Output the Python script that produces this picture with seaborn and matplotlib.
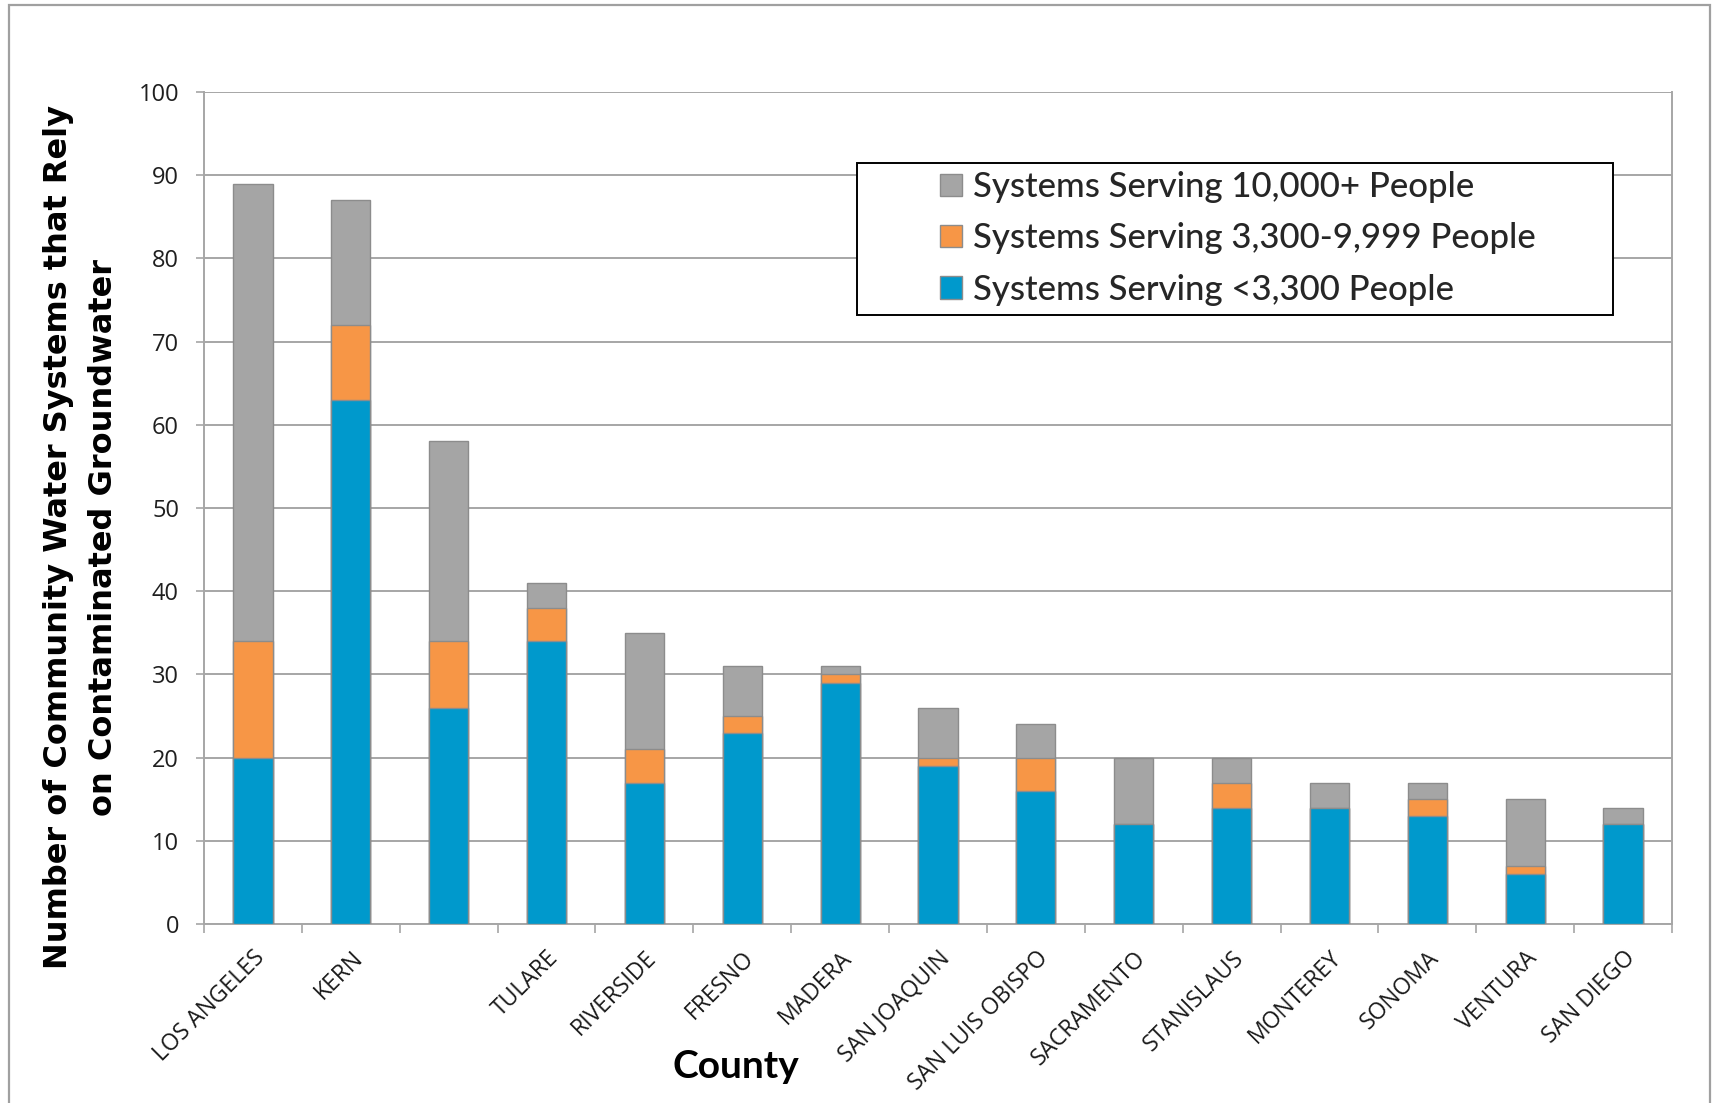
import matplotlib
matplotlib.use("Agg")
import matplotlib.pyplot as plt
import seaborn as sns
import pandas as pd
from matplotlib.patches import Rectangle, Patch
from matplotlib.ticker import FixedLocator

counties = ["LOS ANGELES", "KERN", "", "TULARE", "RIVERSIDE", "FRESNO", "MADERA",
            "SAN JOAQUIN", "SAN LUIS OBISPO", "SACRAMENTO", "STANISLAUS", "MONTEREY",
            "SONOMA", "VENTURA", "SAN DIEGO"]
small = [20, 63, 26, 34, 17, 23, 29, 19, 16, 12, 14, 14, 13, 6, 12]      # <3,300
medium = [14, 9, 8, 4, 4, 2, 1, 1, 4, 0, 3, 0, 2, 1, 0]                # 3,300-9,999
large = [55, 15, 24, 3, 14, 6, 1, 6, 4, 8, 3, 3, 2, 8, 2]              # 10,000+
series_names = ["Systems Serving 10,000+ People",
                "Systems Serving 3,300-9,999 People",
                "Systems Serving <3,300 People"]
yticks = [0, 10, 20, 30, 40, 50, 60, 70, 80, 90, 100]

c_large, c_med, c_small = "#A5A5A5", "#F79646", "#0099CC"
edge = "#8C8C8C"
grid_c = "#A6A6A6"

sns.set_theme(style="white")
plt.rcParams['font.family'] = ['Open Sans', 'DejaVu Sans']

df = pd.DataFrame({"county": counties, "small": small, "medium": medium, "large": large})
df["top_med"] = df["small"] + df["medium"]
df["total"] = df["top_med"] + df["large"]

fig = plt.figure(figsize=(17.12, 11.03), dpi=100)
ax = fig.add_axes([204/1712, 1-924/1103, 1468/1712, 832/1103])

for col, color in [("total", c_large), ("top_med", c_med), ("small", c_small)]:
    sns.barplot(data=df, x="county", y=col, order=counties, color=color, width=0.4,
                edgecolor=edge, linewidth=1.0, errorbar=None, saturation=1, ax=ax, zorder=3)

ax.set_ylim(0, 100)
ax.set_xlim(-0.5, len(counties) - 0.5)
ax.set_yticks(yticks)
ax.set_yticklabels([str(v) for v in yticks], fontsize=17, color="#1f1f1f")
ax.set_xticks(range(len(counties)))
ax.set_xticklabels(counties, rotation=45, ha="right", va="top",
                   rotation_mode="anchor", fontsize=16.5, color="#1a1a1a")
ax.tick_params(axis="x", which="major", length=0, pad=16, bottom=True)
ax.xaxis.set_minor_locator(FixedLocator([i - 0.5 for i in range(len(counties) + 1)]))
ax.tick_params(axis="x", which="minor", length=6.5, width=1.2, color=grid_c,
               direction="out", bottom=True)
ax.tick_params(axis="y", which="major", length=6, width=1.2, color=grid_c,
               direction="out", pad=12, left=True)
ax.set_xlabel("")
ax.set_ylabel("")
ax.yaxis.grid(True, color=grid_c, linewidth=1.4, zorder=0)
ax.set_axisbelow(True)
for side in ["left", "bottom", "right"]:
    ax.spines[side].set_visible(True)
    ax.spines[side].set_color(grid_c)
    ax.spines[side].set_linewidth(1.4)
ax.spines["top"].set_visible(False)

# legend box
lx0, ly0 = (857-204)/1468, (924-315)/832
lw, lh = (1613-857)/1468, (315-163)/832
ax.add_patch(Rectangle((lx0, ly0), lw, lh, transform=ax.transAxes, facecolor="white",
                       edgecolor="black", linewidth=1.4, zorder=5))
handles = [Patch(facecolor=c, edgecolor=edge, linewidth=1.0) for c in (c_large, c_med, c_small)]
leg = ax.legend(handles, series_names, loc="upper left",
                bbox_to_anchor=((940-204)/1468, (924-171)/832), frameon=False,
                prop={"family": "Lato", "size": 25}, handlelength=0.62, handleheight=0.62,
                handletextpad=0.32, labelspacing=0.56, borderaxespad=0, borderpad=0)
for t in leg.get_texts():
    t.set_fontweight("medium")
leg.set_zorder(6)

fig.text(81/1712, 1-537/1103,
         "Number of Community Water Systems that Rely\non Contaminated Groundwater",
         rotation=90, ha="center", va="center", fontsize=23, fontweight="bold",
         family="DejaVu Sans", linespacing=1.6, color="black")
fig.text(736/1712, 1-1066/1103, "County", ha="center", va="center", fontsize=28,
         fontweight="bold", family="Lato", color="black")

# outer chart border
fig.patches.append(Rectangle((9/1712, -0.05), (1710-9)/1712, 1.05 - 5/1103,
                             transform=fig.transFigure, fill=False, edgecolor="#A0A0A0",
                             linewidth=1.6))

fig.savefig("out.png", dpi=100)
